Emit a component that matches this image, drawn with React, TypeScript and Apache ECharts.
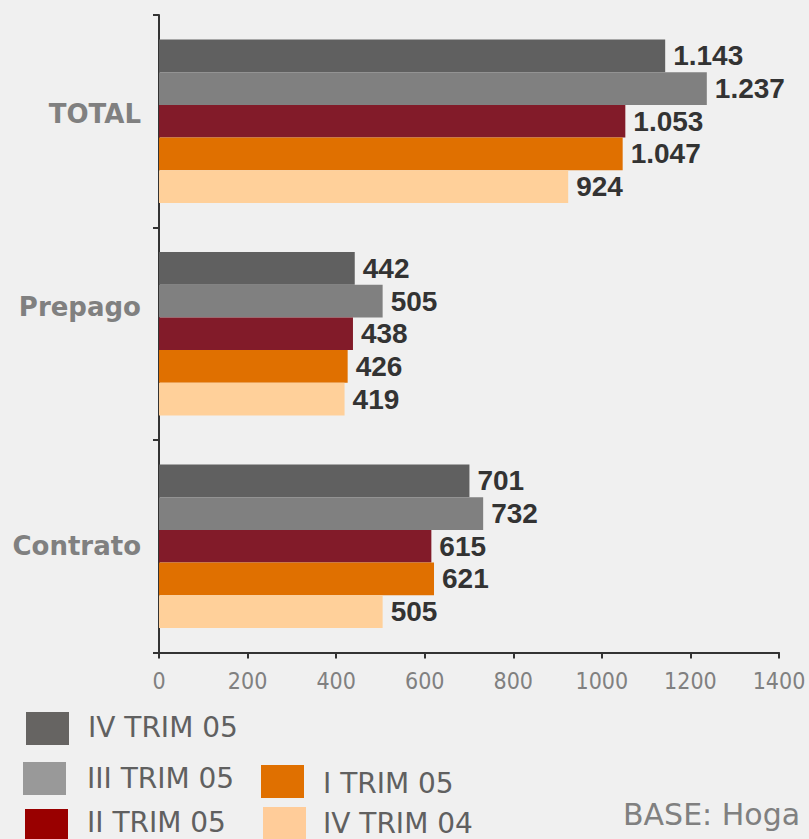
import React, { useEffect, useRef } from "react";
import * as echarts from "echarts";

const categories = ["Contrato", "Prepago", "TOTAL"];
const seriesNames = ["IV TRIM 05", "III TRIM 05", "II TRIM 05", "I TRIM 05", "IV TRIM 04"];
const ivTrim05 = [701, 442, 1143];
const iiiTrim05 = [732, 505, 1237];
const iiTrim05 = [615, 438, 1053];
const iTrim05 = [621, 426, 1047];
const ivTrim04 = [505, 419, 924];
const barColors = ["#606060", "#808080", "#821B29", "#E07000", "#FFD09A"];
const legendColors = ["#666462", "#999999", "#990000", "#E07000", "#FFCC99"];
const xTicks = [0, 200, 400, 600, 800, 1000, 1200, 1400];
const baseNote = "BASE: Hoga";

const fmt = (v: number) => {
  const s = String(Math.round(v));
  return s.replace(/\B(?=(\d{3})+(?!\d))/g, ".");
};

export default function App() {
  const ref = useRef<HTMLDivElement>(null);
  useEffect(() => {
    if (!ref.current) return;
    const chart = echarts.init(ref.current, null, { renderer: "svg" });
    const values = [ivTrim05, iiiTrim05, iiTrim05, iTrim05, ivTrim04];
    const legendPos = [
      { rx: 26, ry: 712, tx: 88, ty: 727 },
      { rx: 23, ry: 762, tx: 87, ty: 778 },
      { rx: 25, ry: 809, tx: 87, ty: 822 },
      { rx: 261, ry: 765, tx: 323, ty: 783 },
      { rx: 263, ry: 807, tx: 323, ty: 823 },
    ];
    const graphics: any[] = [];
    seriesNames.forEach((n, i) => {
      const p = legendPos[i];
      graphics.push({
        type: "rect",
        shape: { x: p.rx, y: p.ry, width: 43, height: 33 },
        style: { fill: legendColors[i] },
      });
      graphics.push({
        type: "text",
        x: p.tx,
        y: p.ty,
        style: {
          text: n,
          fill: "#606060",
          font: "28px 'DejaVu Sans'",
          textVerticalAlign: "middle",
        },
      });
    });
    graphics.push({
      type: "text",
      x: 623,
      y: 814,
      style: {
        text: baseNote,
        fill: "#808080",
        font: "30px 'DejaVu Sans'",
        textVerticalAlign: "middle",
      },
    });
    const labelStyle = {
      color: "#808080",
      fontFamily: "'DejaVu Sans'",
      fontWeight: "bold" as const,
      fontSize: 26,
    };
    chart.setOption({
      animation: false,
      backgroundColor: "#f0f0f0",
      grid: { left: 159, right: 30, top: 15, bottom: 186.5, containLabel: false },
      xAxis: {
        type: "value",
        min: 0,
        max: 1400,
        interval: 200,
        axisLine: { show: true, lineStyle: { color: "#333333", width: 2 } },
        axisTick: { show: true, length: 6, lineStyle: { color: "#333333", width: 2 } },
        splitLine: { show: false },
        axisLabel: {
          color: "#808080",
          fontFamily: "'DejaVu Sans Condensed'",
          fontSize: 23,
          margin: 17,
          formatter: (v: number) => (xTicks.includes(v) ? String(v) : ""),
        },
      },
      yAxis: {
        type: "category",
        data: categories,
        axisLine: { show: true, lineStyle: { color: "#333333", width: 2 } },
        axisTick: { show: true, length: 6, lineStyle: { color: "#333333", width: 2 } },
        axisLabel: {
          ...labelStyle,
          margin: 18,
          formatter: (v: string) =>
            v === "TOTAL" ? `{t|${v}}` : v === "Prepago" ? `{p|${v}}` : `{c|${v}}`,
          rich: {
            t: { ...labelStyle, padding: [0, 0, 15, 0] },
            p: { ...labelStyle, padding: [0, 0, 54, 0] },
            c: { ...labelStyle },
          },
        },
      },
      series: seriesNames.map((n, i) => ({
        type: "bar",
        name: n,
        data: values[i],
        barGap: "0%",
        barCategoryGap: "23%",
        itemStyle: { color: barColors[i] },
        label: {
          show: true,
          position: "right",
          distance: 8,
          color: "#333333",
          fontFamily: "'Liberation Sans', Arial",
          fontWeight: "bold",
          fontSize: 28,
          formatter: (p: any) => fmt(p.value),
        },
      })),
      graphic: graphics,
    });
    return () => chart.dispose();
  }, []);
  return (
    <div
      ref={ref}
      style={{ position: "fixed", left: 0, top: 0, width: 809, height: 839 }}
    />
  );
}
